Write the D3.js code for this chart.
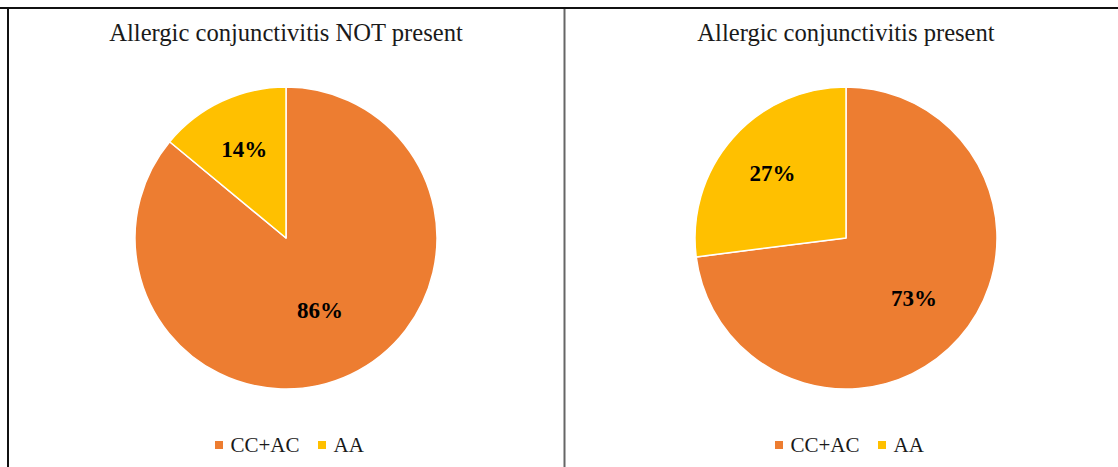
<!DOCTYPE html>
<html>
<head>
<meta charset="utf-8">
<script src="https://cdn.jsdelivr.net/npm/d3@7/dist/d3.min.js"></script>
<style>
  html, body { margin: 0; padding: 0; background: #fff; }
  svg { display: block; }
</style>
</head>
<body>
<svg id="chart" width="1118" height="467"></svg>
<script>
// Share of each category, by allergic conjunctivitis status
const categories = ["CC+AC", "AA"];
const panelTitles = ["Allergic conjunctivitis NOT present", "Allergic conjunctivitis present"];
const notPresentValues = [86, 14];
const presentValues = [73, 27];
const colors = ["#ED7D31", "#FFC000"];

const svg = d3.select("#chart");
const W = 1118, H = 467;
const serif = "'Liberation Serif', 'Times New Roman', serif";

const color = d3.scaleOrdinal().domain(categories).range(colors);

// Frame lines
svg.append("line").attr("x1", 0).attr("x2", W).attr("y1", 8).attr("y2", 8)
  .attr("stroke", "#111").attr("stroke-width", 2);
svg.append("line").attr("x1", 8).attr("x2", 8).attr("y1", 7).attr("y2", H)
  .attr("stroke", "#111").attr("stroke-width", 2);
svg.append("line").attr("x1", 564.5).attr("x2", 564.5).attr("y1", 9).attr("y2", H)
  .attr("stroke", "#666").attr("stroke-width", 2);

const panels = [
  { title: panelTitles[0], values: notPresentValues, cx: 286 },
  { title: panelTitles[1], values: presentValues, cx: 846 }
];

const cy = 238, R = 151;

const pie = d3.pie().sort(null).value(d => d.value);
const arc = d3.arc().innerRadius(0).outerRadius(R);

// label distance from the centre, as a fraction of the radius
function labelRatio(v) {
  if (v < 50) return 0.65;
  return v > 80 ? 0.53 : 0.6;
}

panels.forEach(p => {
  const g = svg.append("g").attr("transform", `translate(${p.cx},${cy})`);
  const data = categories.map((c, i) => ({ category: c, value: p.values[i] }));
  const arcs = pie(data);

  g.selectAll("path.slice").data(arcs).enter().append("path")
    .attr("class", "slice")
    .attr("d", arc)
    .attr("fill", d => color(d.data.category))
    .attr("stroke", "#fff")
    .attr("stroke-width", 1.5)
    .attr("stroke-linejoin", "round");

  g.selectAll("text.lbl").data(arcs).enter().append("text")
    .attr("class", "lbl")
    .attr("transform", d => {
      const r = R * labelRatio(d.data.value);
      const c = d3.arc().innerRadius(r).outerRadius(r).centroid(d);
      return `translate(${c[0]},${c[1]})`;
    })
    .attr("text-anchor", "middle")
    .attr("dy", "0.35em")
    .attr("font-family", serif)
    .attr("font-weight", "bold")
    .attr("font-size", 23)
    .attr("fill", "#000")
    .text(d => d.data.value + "%");

  // Title
  svg.append("text")
    .attr("x", p.cx).attr("y", 41)
    .attr("text-anchor", "middle")
    .attr("font-family", serif)
    .attr("font-size", 24.6)
    .attr("fill", "#1a1a1a")
    .text(p.title);

  // Legend
  const lg = svg.append("g").attr("transform", `translate(${p.cx - 71},452)`);
  const items = [{ x: 0 }, { x: 103 }];
  categories.forEach((c, i) => {
    const it = lg.append("g").attr("transform", `translate(${items[i].x},0)`);
    it.append("rect").attr("x", 0).attr("y", -11).attr("width", 8).attr("height", 8)
      .attr("fill", color(c));
    it.append("text").attr("x", 15.5).attr("y", 0)
      .attr("font-family", serif).attr("font-size", 21).attr("fill", "#1a1a1a")
      .text(c);
  });
});
</script>
</body>
</html>
